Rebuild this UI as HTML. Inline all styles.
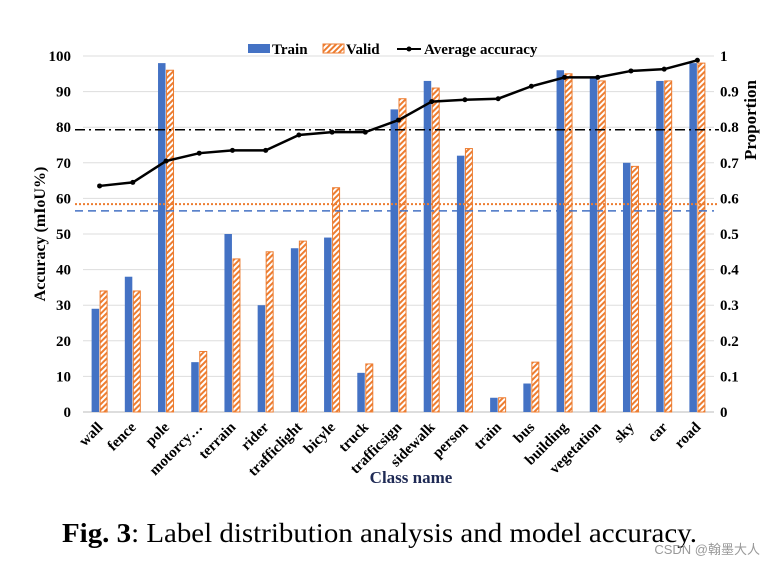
<!DOCTYPE html>
<html><head><meta charset="utf-8"><style>
body{margin:0;background:#fff;width:775px;height:567px;overflow:hidden}
text{font-family:"Liberation Serif",serif}
</style></head><body>
<svg id="c" width="775" height="567">
<defs><pattern id="hatch" width="4" height="4" patternUnits="userSpaceOnUse" patternTransform="rotate(45)"><rect width="4" height="4" fill="#fff"/><rect width="2" height="4" fill="#ED7D31"/></pattern></defs>
</svg>
<script>
const categories=["wall","fence","pole","motorcy…","terrain","rider","trafficlight","bicyle","truck","trafficsign","sidewalk","person","train","bus","building","vegetation","sky","car","road"];
const trainVals=[29,38,98,14,50,30,46,49,11,85,93,72,4,8,96,94,70,93,98];
const validVals=[34,34,96,17,43,45,48,63,13.5,88,91,74,4,14,95,93,69,93,98];
const avgAcc=[0.635,0.645,0.705,0.727,0.735,0.735,0.778,0.786,0.786,0.82,0.872,0.877,0.88,0.915,0.94,0.94,0.958,0.963,0.988];
const leftTicks=[0,10,20,30,40,50,60,70,80,90,100];
const rightTicks=[0,0.1,0.2,0.3,0.4,0.5,0.6,0.7,0.8,0.9,1];
const meanAvg=79.3, meanValid=58.4, meanTrain=56.5;
const X0=83,X1=714,Y0=412,Y1=56;
const bw=(X1-X0)/categories.length;
const y=v=>Y0-(v/100)*(Y0-Y1);
const yr=v=>Y0-v*(Y0-Y1);
const xc=i=>X0+bw*(i+0.5);
const svg=document.getElementById('c');const NS='http://www.w3.org/2000/svg';
function mk(t,a,txt){const e=document.createElementNS(NS,t);for(const k in a)e.setAttribute(k,a[k]);if(txt!==undefined)e.textContent=txt;svg.appendChild(e);return e;}
leftTicks.forEach(v=>{const g=mk('line',{x1:X0,x2:X1,y1:y(v),y2:y(v),stroke:v===0?'#bbb':'#ddd','stroke-width':1});

const t=mk('text',{x:71,y:y(v)+5,'text-anchor':'end','font-size':15,'font-weight':'bold'},v);
});
rightTicks.forEach(v=>{const t=mk('text',{x:720,y:yr(v)+5,'font-size':15,'font-weight':'bold'},v);
});
categories.forEach((c,i)=>{const a=mk('rect',{x:xc(i)-8,y:y(trainVals[i]),width:7.5,height:Y0-y(trainVals[i]),fill:'#4472C4'});

const b=mk('rect',{x:xc(i)+0.5,y:y(validVals[i]),width:7,height:Y0-y(validVals[i]),fill:'url(#hatch)',stroke:'#ED7D31','stroke-width':1});

const t=mk('text',{x:0,y:0,'text-anchor':'end','font-size':15,'font-weight':'bold',transform:`translate(${xc(i)+4},${Y0+16}) rotate(-45)`},c);
});
let l=mk('line',{x1:75,x2:X1+5,y1:y(meanAvg),y2:y(meanAvg),stroke:'#000','stroke-width':1.5,'stroke-dasharray':'10,4,2,4'});

l=mk('line',{x1:75,x2:X1+5,y1:y(meanValid),y2:y(meanValid),stroke:'#ED7D31','stroke-width':2,'stroke-dasharray':'2,2'});

l=mk('line',{x1:75,x2:X1,y1:y(meanTrain),y2:y(meanTrain),stroke:'#4472C4','stroke-width':1.5,'stroke-dasharray':'8,5'});

const pl=mk('polyline',{points:avgAcc.map((v,i)=>xc(i)+','+yr(v)).join(' '),fill:'none',stroke:'#000','stroke-width':2.5});

avgAcc.forEach((v,i)=>{const p=mk('circle',{cx:xc(i),cy:yr(v),r:2.5,fill:'#000'});
});
</script>
<svg style="position:absolute;left:0;top:0" width="775" height="567">
<g>
<rect x="248" y="44" width="22" height="9" fill="#4472C4"/>
<text x="272" y="54" font-size="15" font-weight="bold" fill="#000">Train</text>
<rect x="323" y="44" width="21" height="9" fill="url(#hatch)" stroke="#ED7D31"/>
<text x="346" y="54" font-size="15" font-weight="bold">Valid</text>
<line x1="397" x2="421" y1="49" y2="49" stroke="#000" stroke-width="2"/><circle cx="409" cy="49" r="2.5"/>
<text x="424" y="54" font-size="15" font-weight="bold">Average accuracy</text>
</g>
<text transform="translate(45,234) rotate(-90)" text-anchor="middle" font-size="16" font-weight="bold">Accuracy (mIoU%)</text>
<text transform="translate(756,120) rotate(-90)" text-anchor="middle" font-size="17" font-weight="bold">Proportion</text>
<text x="411" y="483" text-anchor="middle" font-size="17" font-weight="bold" fill="#1F2A55">Class name</text>
<text x="62" y="542" font-size="27" textLength="635" lengthAdjust="spacingAndGlyphs"><tspan font-weight="bold">Fig. 3</tspan>: Label distribution analysis and model accuracy.</text>
<text x="760" y="554" text-anchor="end" font-size="13" fill="#999" style="font-family:'Liberation Sans','Noto Sans CJK SC',sans-serif">CSDN @翰墨大人</text>
</svg>
</body></html>
